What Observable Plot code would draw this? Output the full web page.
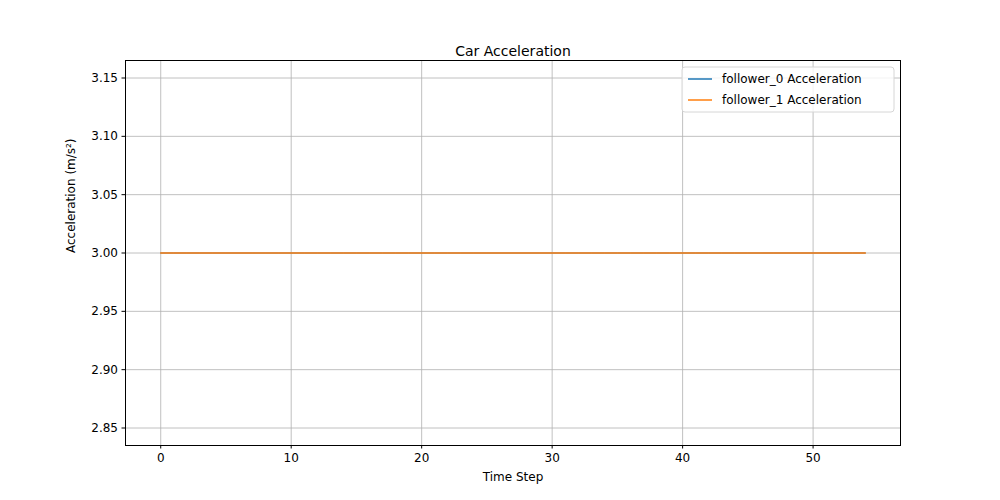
<!DOCTYPE html>
<html>
<head>
<meta charset="utf-8">
<script src="https://cdn.jsdelivr.net/npm/d3@7"></script>
<script src="https://cdn.jsdelivr.net/npm/@observablehq/plot@0.6"></script>
<style>
  body { margin: 0; background: #fff; }
  svg { font-family: "DejaVu Sans", sans-serif; }
</style>
</head>
<body>
<div id="chart"></div>
<script>
const steps = [0,1,2,3,4,5,6,7,8,9,10,11,12,13,14,15,16,17,18,19,20,21,22,23,24,25,26,27,
  28,29,30,31,32,33,34,35,36,37,38,39,40,41,42,43,44,45,46,47,48,49,50,51,52,53,54];
const follower0 = [3,3,3,3,3,3,3,3,3,3,3,3,3,3,3,3,3,3,3,3,3,3,3,3,3,3,3,3,
  3,3,3,3,3,3,3,3,3,3,3,3,3,3,3,3,3,3,3,3,3,3,3,3,3,3,3];
const follower1 = [3,3,3,3,3,3,3,3,3,3,3,3,3,3,3,3,3,3,3,3,3,3,3,3,3,3,3,3,
  3,3,3,3,3,3,3,3,3,3,3,3,3,3,3,3,3,3,3,3,3,3,3,3,3,3,3];
const seriesNames = ["follower_0 Acceleration", "follower_1 Acceleration"];
const colors = ["#1f77b4", "#ff7f0e"];
const xTicks = [0, 10, 20, 30, 40, 50];
const yTicks = [2.85, 2.90, 2.95, 3.00, 3.05, 3.10, 3.15];

const rows0 = steps.map((t, i) => ({t, v: follower0[i]}));
const rows1 = steps.map((t, i) => ({t, v: follower1[i]}));

const chart = Plot.plot({
  width: 1000, height: 500,
  marginTop: 60, marginBottom: 55, marginLeft: 125, marginRight: 100,
  style: {fontSize: "12px", fontFamily: "DejaVu Sans, sans-serif", color: "#000"},
  x: {domain: [-2.7, 56.7], label: null},
  y: {domain: [2.835, 3.165], label: null},
  marks: [
    Plot.gridX(xTicks, {stroke: "#b0b0b0", strokeOpacity: 1, strokeWidth: 0.8}),
    Plot.gridY(yTicks, {stroke: "#b0b0b0", strokeOpacity: 1, strokeWidth: 0.8}),
    Plot.axisX(xTicks, {tickSize: 3.5, tickPadding: 4, fontSize: 12, tickFormat: d3.format("d")}),
    Plot.axisY(yTicks, {tickSize: 3.5, tickPadding: 4, fontSize: 12, tickFormat: d3.format(".2f")}),
    Plot.lineY(rows0, {x: "t", y: "v", stroke: colors[0], strokeWidth: 1}),
    Plot.lineY(rows1, {x: "t", y: "v", stroke: colors[1], strokeWidth: 1.6}),
    Plot.frame({stroke: "#000", strokeWidth: 1}),
    Plot.text(["Car Acceleration"], {frameAnchor: "top", dy: -14, fontSize: 14}),
    Plot.text(["Time Step"], {frameAnchor: "bottom", dy: 35, fontSize: 12}),
    Plot.text(["Acceleration (m/s²)"], {frameAnchor: "left", dx: -54, rotate: -90, fontSize: 12})
  ]
});

const svg = d3.select(chart);
const lg = svg.append("g").attr("transform", "translate(682,67)");
lg.append("rect").attr("width", 212).attr("height", 45).attr("rx", 3)
  .attr("fill", "#fff").attr("fill-opacity", 0.8).attr("stroke", "#d6d6d6");
seriesNames.forEach((name, i) => {
  const y = 12 + i * 21;
  lg.append("line").attr("x1", 6).attr("x2", 30).attr("y1", y).attr("y2", y)
    .attr("stroke", colors[i]).attr("stroke-width", 1.5);
  lg.append("text").attr("x", 40).attr("y", y).attr("dy", "0.35em")
    .attr("text-anchor", "start")
    .attr("font-size", 12).attr("fill", "#000").text(name);
});

d3.select('#chart').append(() => chart);
</script>
</body>
</html>
